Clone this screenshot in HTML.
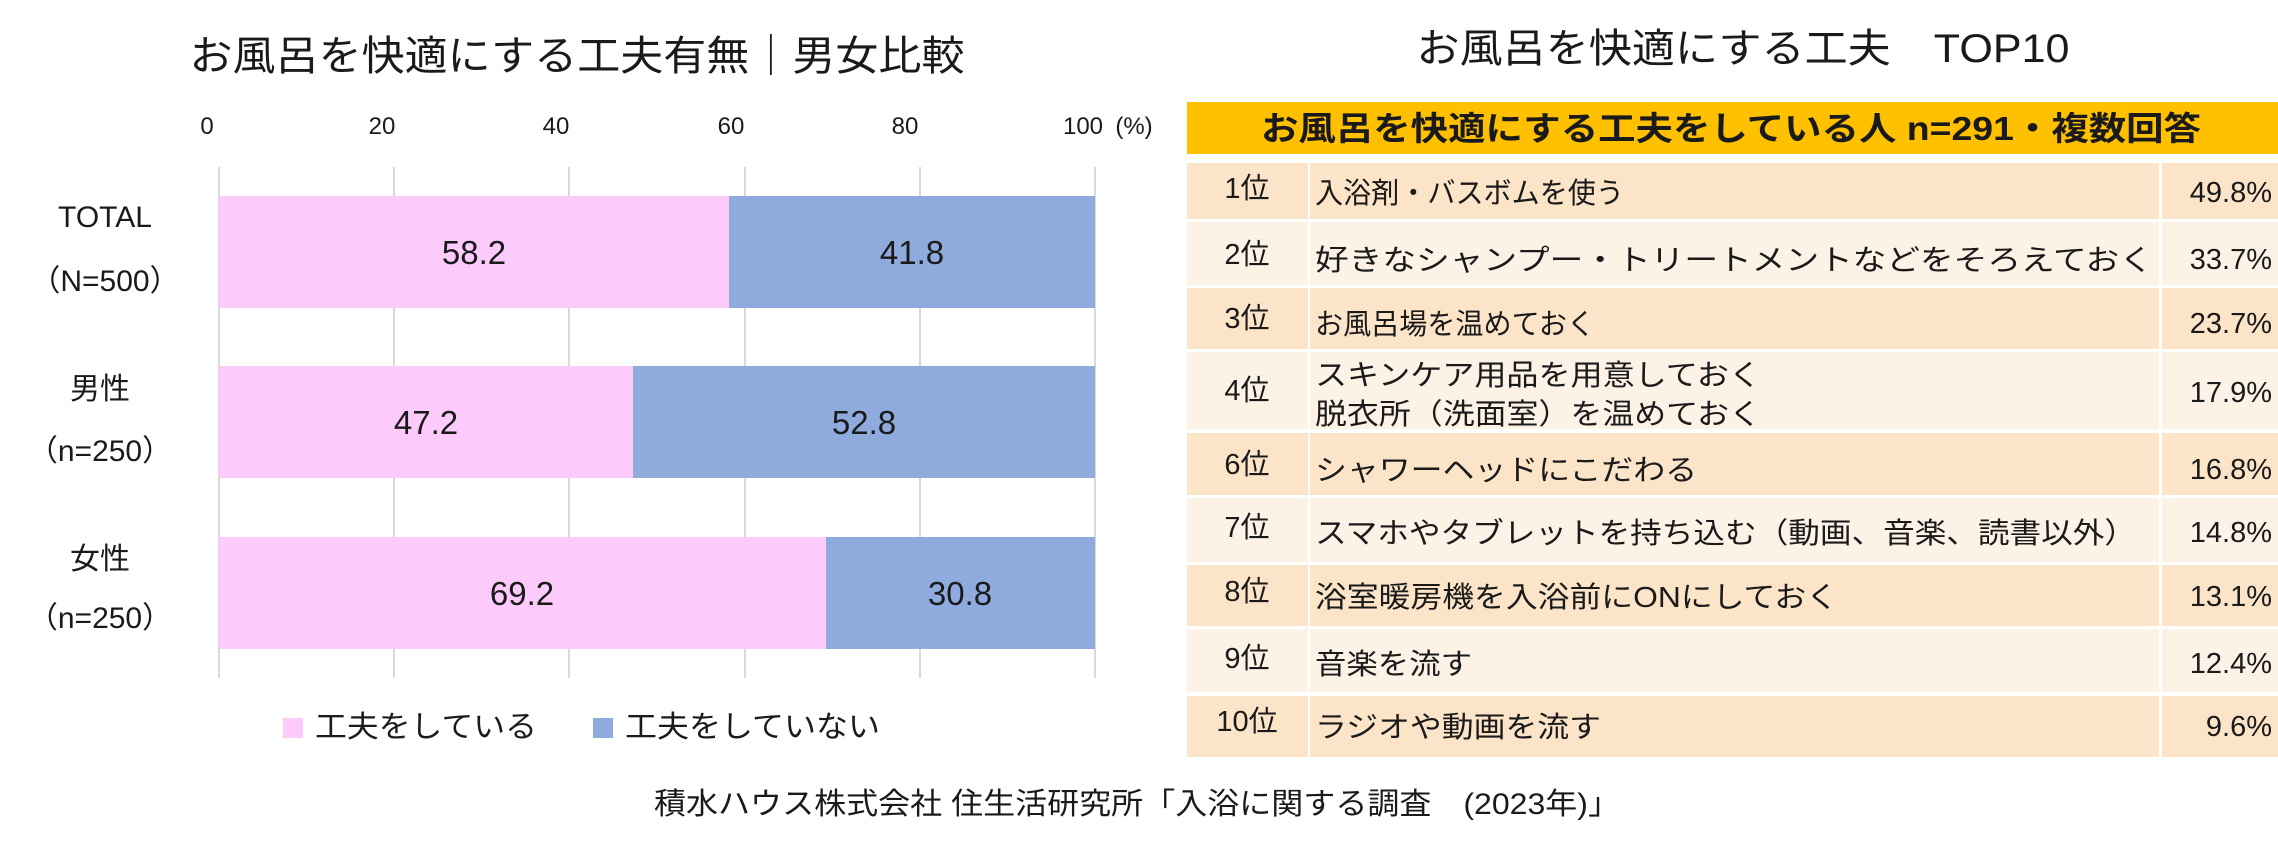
<!DOCTYPE html>
<html><head><meta charset="utf-8"><style>
html,body{margin:0;padding:0;background:#fff;}
svg text{font-family:"Liberation Sans","Noto Sans CJK JP",sans-serif;fill:#1a1a1a;}
</style></head><body>
<svg width="2278" height="850" viewBox="0 0 2278 850" xmlns="http://www.w3.org/2000/svg">
<rect width="2278" height="850" fill="#fff"/>
<!-- Left title -->
<text x="577" y="70" font-size="41" text-anchor="middle" textLength="775" lengthAdjust="spacingAndGlyphs">お風呂を快適にする工夫有無｜男女比較</text>
<!-- ticks -->
<g font-size="24" text-anchor="middle">
<text x="207" y="134">0</text><text x="382" y="134">20</text><text x="556" y="134">40</text>
<text x="731" y="134">60</text><text x="905" y="134">80</text><text x="1083" y="134">100</text>
<text x="1134" y="134">(%)</text>
</g>
<!-- grid -->
<g stroke="#d9d9d9" stroke-width="2">
<line x1="219" y1="167" x2="219" y2="678"/><line x1="394" y1="167" x2="394" y2="678"/>
<line x1="569" y1="167" x2="569" y2="678"/><line x1="745" y1="167" x2="745" y2="678"/>
<line x1="920" y1="167" x2="920" y2="678"/><line x1="1095" y1="167" x2="1095" y2="678"/>
</g>
<!-- bars -->
<rect x="219" y="196" width="510" height="112" fill="#fccbfc"/>
<rect x="729" y="196" width="366" height="112" fill="#8faadc"/>
<rect x="219" y="366" width="414" height="112" fill="#fccbfc"/>
<rect x="633" y="366" width="462" height="112" fill="#8faadc"/>
<rect x="219" y="537" width="607" height="112" fill="#fccbfc"/>
<rect x="826" y="537" width="269" height="112" fill="#8faadc"/>
<g font-size="33" text-anchor="middle">
<text x="474" y="264">58.2</text><text x="912" y="264">41.8</text>
<text x="426" y="434">47.2</text><text x="864" y="434">52.8</text>
<text x="522" y="605">69.2</text><text x="960" y="605">30.8</text>
</g>
<g font-size="30" text-anchor="middle">
<text x="105" y="227">TOTAL</text><text x="105" y="291">（N=500）</text>
<text x="100" y="399">男性</text><text x="100" y="461">（n=250）</text>
<text x="100" y="569">女性</text><text x="100" y="628">（n=250）</text>
</g>
<!-- legend -->
<rect x="283" y="718" width="20" height="20" fill="#fccbfc"/>
<text x="315" y="737" font-size="30" textLength="222" lengthAdjust="spacingAndGlyphs">工夫をしている</text>
<rect x="593" y="718" width="20" height="20" fill="#8faadc"/>
<text x="625" y="737" font-size="30" textLength="255" lengthAdjust="spacingAndGlyphs">工夫をしていない</text>
<!-- Right title -->
<text x="1743" y="62" font-size="40" text-anchor="middle" textLength="653" lengthAdjust="spacingAndGlyphs">お風呂を快適にする工夫　TOP10</text>
<rect x="1187" y="102" width="1091" height="52" fill="#ffc000"/>
<text x="1731" y="140" font-size="33" font-weight="bold" text-anchor="middle" textLength="940" lengthAdjust="spacingAndGlyphs">お風呂を快適にする工夫をしている人 n=291・複数回答</text>
<!-- rows -->
<g>
<rect x="1187" y="163" width="121" height="56" fill="#fce4c8"/><rect x="1310" y="163" width="849" height="56" fill="#fce4c8"/><rect x="2162" y="163" width="116" height="56" fill="#fce4c8"/>
<rect x="1187" y="222" width="121" height="63" fill="#fdf2e6"/><rect x="1310" y="222" width="849" height="63" fill="#fdf2e6"/><rect x="2162" y="222" width="116" height="63" fill="#fdf2e6"/>
<rect x="1187" y="288" width="121" height="61" fill="#fce4c8"/><rect x="1310" y="288" width="849" height="61" fill="#fce4c8"/><rect x="2162" y="288" width="116" height="61" fill="#fce4c8"/>
<rect x="1187" y="352" width="121" height="77" fill="#fdf2e6"/><rect x="1310" y="352" width="849" height="77" fill="#fdf2e6"/><rect x="2162" y="352" width="116" height="77" fill="#fdf2e6"/>
<rect x="1187" y="433" width="121" height="62" fill="#fce4c8"/><rect x="1310" y="433" width="849" height="62" fill="#fce4c8"/><rect x="2162" y="433" width="116" height="62" fill="#fce4c8"/>
<rect x="1187" y="498" width="121" height="64" fill="#fdf2e6"/><rect x="1310" y="498" width="849" height="64" fill="#fdf2e6"/><rect x="2162" y="498" width="116" height="64" fill="#fdf2e6"/>
<rect x="1187" y="565" width="121" height="61" fill="#fce4c8"/><rect x="1310" y="565" width="849" height="61" fill="#fce4c8"/><rect x="2162" y="565" width="116" height="61" fill="#fce4c8"/>
<rect x="1187" y="629" width="121" height="63" fill="#fdf2e6"/><rect x="1310" y="629" width="849" height="63" fill="#fdf2e6"/><rect x="2162" y="629" width="116" height="63" fill="#fdf2e6"/>
<rect x="1187" y="696" width="121" height="61" fill="#fce4c8"/><rect x="1310" y="696" width="849" height="61" fill="#fce4c8"/><rect x="2162" y="696" width="116" height="61" fill="#fce4c8"/>
</g>
<g font-size="29" text-anchor="middle">
<text x="1247" y="198">1位</text><text x="1247" y="264">2位</text><text x="1247" y="328">3位</text>
<text x="1247" y="400">4位</text><text x="1247" y="474">6位</text><text x="1247" y="537">7位</text>
<text x="1247" y="601">8位</text><text x="1247" y="668">9位</text><text x="1247" y="731">10位</text>
</g>
<g font-size="29">
<text x="1315" y="203" textLength="309" lengthAdjust="spacingAndGlyphs">入浴剤・バスボムを使う</text>
<text x="1315" y="270" textLength="838" lengthAdjust="spacingAndGlyphs">好きなシャンプー・トリートメントなどをそろえておく</text>
<text x="1315" y="334" textLength="280" lengthAdjust="spacingAndGlyphs">お風呂場を温めておく</text>
<text x="1315" y="385" textLength="446" lengthAdjust="spacingAndGlyphs">スキンケア用品を用意しておく</text>
<text x="1315" y="424" textLength="446" lengthAdjust="spacingAndGlyphs">脱衣所（洗面室）を温めておく</text>
<text x="1315" y="480" textLength="382" lengthAdjust="spacingAndGlyphs">シャワーヘッドにこだわる</text>
<text x="1315" y="543" textLength="821" lengthAdjust="spacingAndGlyphs">スマホやタブレットを持ち込む（動画、音楽、読書以外）</text>
<text x="1315" y="607" textLength="523" lengthAdjust="spacingAndGlyphs">浴室暖房機を入浴前にONにしておく</text>
<text x="1315" y="674" textLength="157" lengthAdjust="spacingAndGlyphs">音楽を流す</text>
<text x="1315" y="737" textLength="286" lengthAdjust="spacingAndGlyphs">ラジオや動画を流す</text>
</g>
<g font-size="29" text-anchor="end">
<text x="2272" y="202">49.8%</text><text x="2272" y="269">33.7%</text><text x="2272" y="333">23.7%</text>
<text x="2272" y="402">17.9%</text><text x="2272" y="479">16.8%</text><text x="2272" y="542">14.8%</text>
<text x="2272" y="606">13.1%</text><text x="2272" y="673">12.4%</text><text x="2272" y="736">9.6%</text>
</g>
<!-- footer -->
<text x="1137" y="814" font-size="30" text-anchor="middle" textLength="966" lengthAdjust="spacingAndGlyphs">積水ハウス株式会社 住生活研究所「入浴に関する調査　(2023年)」</text>
</svg>
</body></html>
